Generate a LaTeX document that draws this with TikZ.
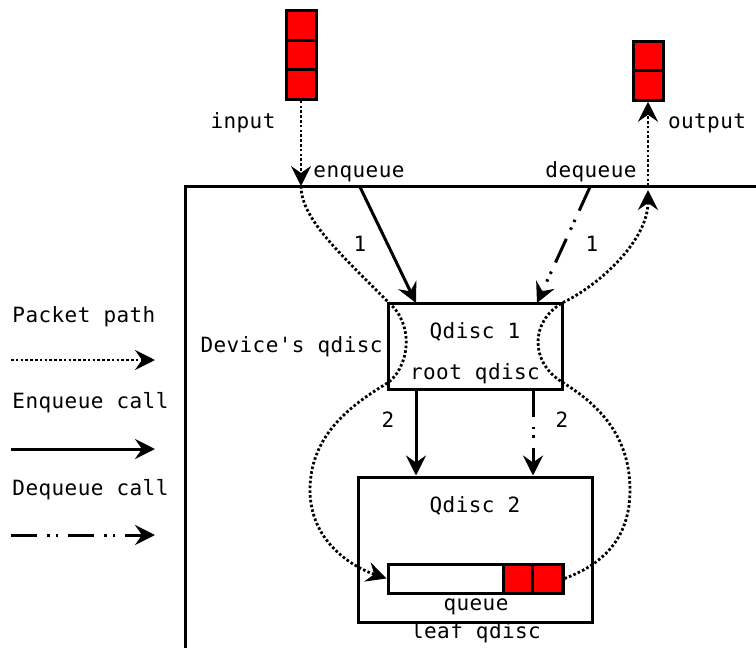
\documentclass[tikz,border=0pt]{standalone}
\usepackage{fontspec}
\newfontfamily\monofont[LetterSpace=2]{DejaVu Sans Mono}
\usetikzlibrary{arrows.meta}
\begin{document}
\begin{tikzpicture}[x=1pt,y=-1pt,line width=3pt,
  tip/.style={-{Stealth[length=20pt,width=20pt,inset=7pt]}},
  lbl/.style={font=\monofont\fontsize{21}{23}\selectfont,inner sep=0pt,anchor=base},
  lbll/.style={lbl,anchor=base west},
  box/.style={draw,rectangle,inner sep=0pt},
  pkt/.style={draw,fill=red,rectangle,inner sep=0pt,minimum width=30pt,minimum height=29.5pt},
  pathline/.style={dash pattern=on 2.6pt off 2.2pt,line width=2.8pt},
  deqline/.style={dash pattern=on 26pt off 10pt on 2.5pt off 6pt on 2.5pt off 10pt}]
\useasboundingbox (0,0) rectangle (756,648);

% device boundary
\draw (185,650) -- (185,186) -- (758,186);

% incoming and outgoing packets
\node[pkt] (in1) at (301,25.5) {};
\node[pkt] (in2) at (301,55) {};
\node[pkt] (in3) at (301,84.5) {};
\node[pkt] (out1) at (648,56) {};
\node[pkt] (out2) at (648,85.5) {};

% qdiscs
\node[box,minimum width=174pt,minimum height=86pt] (q1) at (475,346) {};
\node[box,minimum width=234pt,minimum height=145pt] (q2) at (475,549.5) {};
\node[draw,rectangle,inner sep=0pt,minimum width=175pt,minimum height=29pt] (queue) at (475.5,578.5) {};
\node[pkt,minimum width=29.5pt,minimum height=29pt] (c1) at (518,578.5) {};
\node[pkt,minimum width=29.5pt,minimum height=29pt] (c2) at (547.5,578.5) {};

% waypoints
\coordinate (entry) at (301,186);
\coordinate (exit) at (648,186);
\coordinate (exit2) at (648,190);
\coordinate (enqs) at (360,187);
\coordinate (deqs) at (590,187);
\coordinate (enqe) at (416,303);
\coordinate (deqe) at (537,303);
\coordinate (lA) at (389,303);
\coordinate (lB) at (389,382);
\coordinate (lC) at (310,490);
\coordinate (rA) at (562,303);
\coordinate (rB) at (562,382);
\coordinate (rC) at (630,490);

% texts
\node[lbl] (tin) at (243,128) {input};
\node[lbl] (tout) at (707,128) {output};
\node[lbl] (tenq) at (359,177) {enqueue};
\node[lbl] (tdeq) at (591,177) {dequeue};
\node[lbl] (one1) at (360,251) {1};
\node[lbl] (one2) at (592,251) {1};
\node[lbl] (tq1) at (475,338) {Qdisc 1};
\node[lbl] (troot) at (475,379) {root qdisc};
\node[lbl] (two1) at (388,427) {2};
\node[lbl] (two2) at (562,427) {2};
\node[lbl] (tq2) at (475,512) {Qdisc 2};
\node[lbl] (tqueue) at (476,610) {queue};
\node[lbl] (tleaf) at (476,638) {leaf qdisc};
\node[lbll] (tdev) at (199,352) {Device's qdisc};

% legend
\node[lbll] (lg1) at (11,322) {Packet path};
\node[lbll] (lg2) at (11,408) {Enqueue call};
\node[lbll] (lg3) at (11,495) {Dequeue call};
\coordinate (lg1a) at (11,360); \coordinate (lg1b) at (155,360);
\coordinate (lg2a) at (11,449); \coordinate (lg2b) at (155,449);
\coordinate (lg3a) at (11,535); \coordinate (lg3b) at (155,535);
\draw[pathline,tip] (lg1a) -- (lg1b);
\draw[tip] (lg2a) -- (lg2b);
\draw[deqline,tip] (lg3a) -- (lg3b);

% packet path
\draw[pathline,tip] (in3.south) -- (entry);
\draw[pathline,tip] (exit) -- (out2.south);
\draw[pathline,tip] (entry) .. controls (301,220) and (345,258) .. (lA)
  .. controls (412,322) and (412,362) .. (lB)
  .. controls (360,400) and (310,430) .. (lC)
  .. controls (310,540) and (350,566) .. (queue.west);
\draw[pathline,tip] (queue.east) .. controls (601,565) and (630,540) .. (rC)
  .. controls (630,430) and (591,400) .. (rB)
  .. controls (530,362) and (530,322) .. (rA)
  .. controls (600,285) and (648,240) .. (exit2);

% calls
\draw[tip] (enqs) -- (enqe);
\draw[deqline,tip] (deqs) -- (deqe);
\draw[tip] (q1.south -| enqe) -- (q2.north -| enqe);
\draw[deqline,tip] (q1.south -| 533,0) -- (q2.north -| 533,0);
\end{tikzpicture}
\end{document}
